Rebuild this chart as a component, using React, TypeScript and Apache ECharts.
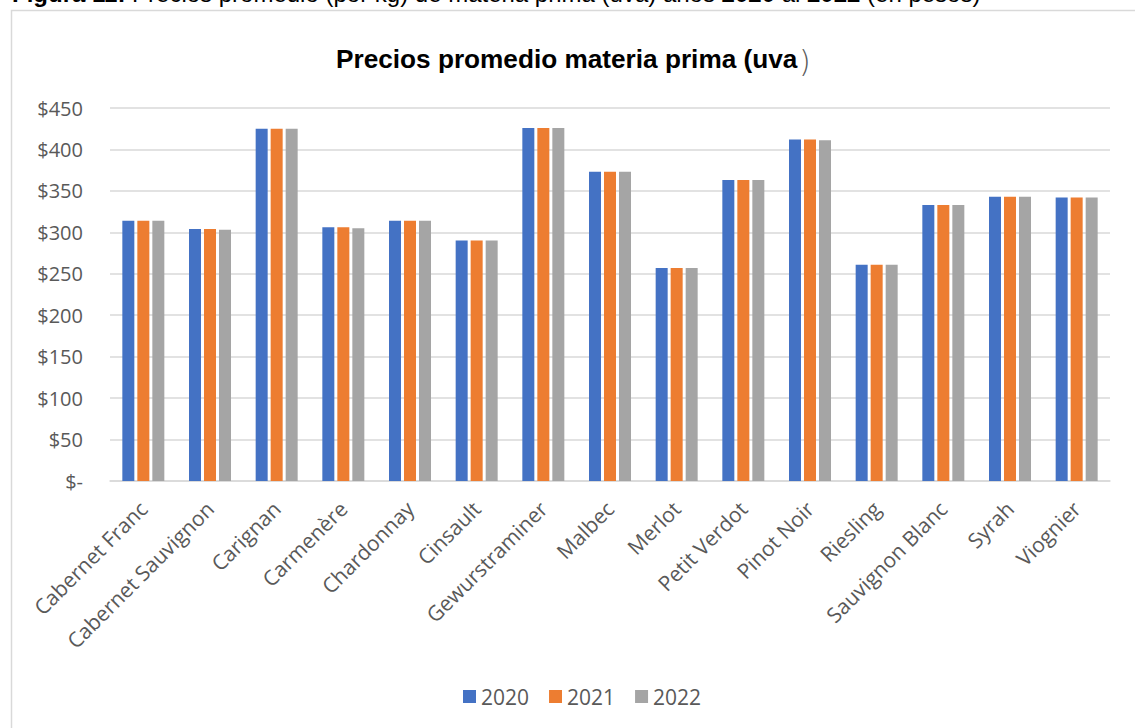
import React, { useEffect, useRef } from "react";
import * as echarts from "echarts";

const categories = [
  "Cabernet Franc",
  "Cabernet Sauvignon",
  "Carignan",
  "Carmenère",
  "Chardonnay",
  "Cinsault",
  "Gewurstraminer",
  "Malbec",
  "Merlot",
  "Petit Verdot",
  "Pinot Noir",
  "Riesling",
  "Sauvignon Blanc",
  "Syrah",
  "Viognier",
];

const years = ["2020", "2021", "2022"];

const values2020 = [314, 304, 425, 306, 314, 290, 426, 373, 257, 363, 412, 261, 333, 343, 342];
const values2021 = [314, 304, 425, 306, 314, 290, 426, 373, 257, 363, 412, 261, 333, 343, 342];
const values2022 = [314, 303, 425, 305, 314, 290, 426, 373, 257, 363, 411, 261, 333, 343, 342];

const yTicks = [0, 50, 100, 150, 200, 250, 300, 350, 400, 450];

const colors = ["#4472C4", "#ED7D31", "#A5A5A5"];

const titleText = "Precios promedio materia prima (uva";
const titleClose = ")";
const captionParts = [
  { t: "Figura 11: ", b: true },
  { t: "Precios promedio (por kg) de materia prima (uva) años ", b: false },
  { t: "2020", b: true },
  { t: " al ", b: false },
  { t: "2022", b: true },
  { t: " (en pesos)", b: false },
];

export default function App() {
  const ref = useRef<HTMLDivElement>(null);

  useEffect(() => {
    document.body.style.margin = "0";
    if (!ref.current) return;
    const chart = echarts.init(ref.current, undefined, { renderer: "svg" });
    const labelFont = "'Open Sans', 'DejaVu Sans', sans-serif";
    const allSeries = [values2020, values2021, values2022];

    const captionRich: any = {
      b: { fontFamily: "'Liberation Sans', Arial", fontWeight: "bold", fontSize: 24, color: "#000" },
      n: { fontFamily: "'Liberation Sans', Arial", fontWeight: "normal", fontSize: 24, color: "#000" },
    };
    const captionText = captionParts.map((p) => `{${p.b ? "b" : "n"}|${p.t}}`).join("");

    chart.setOption({
      animation: false,
      backgroundColor: "#ffffff",
      title: {
        text: titleText,
        left: 336,
        top: 42,
        padding: 0,
        textStyle: {
          fontFamily: "'Liberation Sans', Arial, sans-serif",
          fontWeight: "bold",
          fontSize: 26.2,
          color: "#000000",
          lineHeight: 34,
        },
      },
      graphic: [
        {
          type: "rect",
          silent: true,
          shape: { x: 11.5, y: 10.5, width: 1140, height: 740 },
          style: { fill: "none", stroke: "#d9d9d9", lineWidth: 1.5 },
        },
        {
          type: "text",
          silent: true,
          x: 799,
          y: 61,
          style: {
            text: titleClose,
            fontFamily: "'DejaVu Sans', sans-serif",
            fontWeight: 200,
            fontSize: 30,
            fill: "#595959",
            verticalAlign: "middle",
            align: "left",
          },
        },
        {
          type: "text",
          silent: true,
          x: 12,
          y: 5,
          style: {
            text: captionText,
            rich: captionRich,
            verticalAlign: "bottom",
            align: "left",
          },
        },
      ],
      legend: {
        data: years,
        left: 458,
        top: 681,
        itemWidth: 13,
        itemHeight: 13,
        itemGap: 20,
        icon: "rect",
        textStyle: {
          fontFamily: labelFont,
          fontSize: 21,
          color: "#595959",
          lineHeight: 20,
        },
      },
      grid: {
        left: 110,
        right: 25,
        top: 108,
        bottom: 247,
        containLabel: false,
      },
      xAxis: {
        type: "category",
        data: categories,
        axisLine: { show: true, lineStyle: { color: "#d9d9d9", width: 1.5 } },
        axisTick: { show: false },
        axisLabel: {
          interval: 0,
          rotate: 45,
          margin: 24,
          fontFamily: labelFont,
          fontSize: 21,
          color: "#595959",
        },
      },
      yAxis: {
        type: "value",
        min: 0,
        max: 450,
        interval: 50,
        axisLine: { show: false },
        axisTick: { show: false },
        splitLine: { lineStyle: { color: "#d9d9d9", width: 1.5 } },
        axisLabel: {
          margin: 27,
          fontFamily: labelFont,
          fontSize: 20,
          color: "#595959",
          formatter: (v: number) => (yTicks.includes(v) ? (v === 0 ? "$-" : "$" + v) : ""),
        },
      },
      series: years.map((y, i) => ({
        name: y,
        type: "bar",
        data: allSeries[i],
        barWidth: 12,
        barGap: "25%",
        itemStyle: { color: colors[i] },
      })),
    });

    return () => {
      chart.dispose();
    };
  }, []);

  return <div ref={ref} style={{ width: 1135, height: 728 }} />;
}
